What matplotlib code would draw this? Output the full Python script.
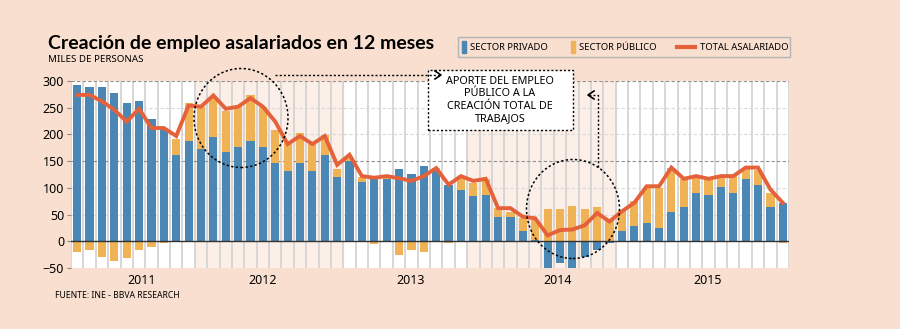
import matplotlib
matplotlib.use("Agg")
import matplotlib.pyplot as plt
from matplotlib.patches import Ellipse, Rectangle
from matplotlib.lines import Line2D

plt.rcParams['font.family'] = ['Noto Sans', 'DejaVu Sans']

# datos (miles de personas, variacion en 12 meses)
privado = [293, 288, 288, 278, 258, 263, 228, 211, 162, 187,
           172, 196, 167, 176, 187, 176, 146, 132, 146, 132,
           162, 121, 151, 111, 116, 117, 136, 126, 141, 134,
           105, 96, 84, 86, 45, 45, 20, 2, -52, -41,
           -50, -29, -16, -4, 19, 29, 35, 25, 55, 65,
           91, 86, 101, 91, 116, 106, 65, 72]
publico = [-20, -16, -30, -36, -31, -16, -11, -4, 30, 72,
           80, 72, 76, 76, 86, 76, 62, 54, 56, 51,
           36, 15, 5, 10, -5, 3, -25, -16, -20, 3,
           -4, 22, 26, 31, 17, 9, 23, 37, 60, 60,
           66, 60, 65, 40, 40, 46, 65, 75, 83, 52,
           28, 31, 21, 31, 22, 28, 26, -4]
total = [274, 274, 262, 246, 224, 248, 212, 212, 197, 254,
         252, 273, 248, 252, 268, 252, 224, 182, 197, 182,
         197, 143, 162, 122, 119, 122, 118, 113, 122, 137,
         106, 122, 113, 117, 62, 62, 46, 43, 11, 21,
         22, 30, 53, 37, 56, 72, 103, 103, 138, 117,
         122, 117, 122, 122, 138, 138, 97, 72]
years = ['2011', '2012', '2013', '2014', '2015']
year_pos = [5.2, 15.0, 26.9, 38.8, 50.9]
bandas = [(10, 22), (32, 44)]

bg = '#f8dfcf'
azul = '#4a87b4'
naranja = '#efb254'
rojo = '#e4613a'

fig = plt.figure(figsize=(9, 3.29), dpi=100, facecolor=bg)
ax = fig.add_axes([71/900, 1-268/329, 718/900, 187/329])
ax.set_facecolor('white')

n = len(privado)
x = list(range(n))
for a, b in bandas:
    ax.axvspan(a - 0.5, b - 0.5, color='#fcefe8', zorder=0)
for i in range(n + 1):
    ax.axvline(i - 0.5, color='#d4d4d4', lw=1.3, zorder=1)
for v in [50, 100, 200, 250]:
    ax.axhline(v, color='#d8d8d8', lw=0.8, ls=(0, (3, 2)), zorder=1)
for v in [150, 300]:
    ax.axhline(v, color='#909090', lw=0.8, ls=(0, (3, 2)), zorder=1)

# barras apiladas: positivos sobre positivos, negativos bajo negativos
pub_base = []
for p, q in zip(privado, publico):
    if q >= 0:
        pub_base.append(max(p, 0))
    else:
        pub_base.append(min(p, 0))
ax.bar(x, privado, width=0.66, color=azul, zorder=2)
ax.bar(x, publico, bottom=pub_base, width=0.66, color=naranja, zorder=2)
ax.axhline(0, color='#333333', lw=1.0, zorder=3)
ax.plot(x, total, color=rojo, lw=2.8, zorder=4, solid_joinstyle='miter')

ax.set_xlim(-0.5, n - 0.5)
ax.set_ylim(-50, 300)
ax.set_yticks([-50, 0, 50, 100, 150, 200, 250, 300])
ax.set_xticks(year_pos)
ax.set_xticklabels(years)
ax.tick_params(axis='x', length=0, pad=4, labelsize=9)
ax.tick_params(axis='y', length=3, color='#888888', pad=2, labelsize=9)
for s in ax.spines.values():
    s.set_visible(False)

# titulo
fig.text(48/900, 1-44/329, 'Creación de empleo asalariados en 12 meses',
         fontsize=14, fontweight='bold', family='Lato', va='center', ha='left')
fig.text(48/900, 1-60/329, 'MILES DE PERSONAS', fontsize=7, va='center', ha='left')
fig.text(55/900, 1-296/329, 'FUENTE: INE - BBVA RESEARCH', fontsize=6.2,
         va='center', ha='left')

# leyenda (dibujada a mano)
t = fig.transFigure
fig.add_artist(Rectangle((458/900, 1-57/329), 332/900, 20/329, transform=t,
                         facecolor=bg, edgecolor='#b5b5b5', lw=1.0))
fig.add_artist(Rectangle((462/900, 1-53/329), 4/900, 12/329, transform=t, color=azul))
fig.add_artist(Rectangle((571/900, 1-53/329), 4/900, 12/329, transform=t, color=naranja))
fig.add_artist(Line2D([677/900, 695/900], [1-47/329, 1-47/329], transform=t,
                      color=rojo, lw=3))
for xt, txt in [(470, 'SECTOR PRIVADO'), (579, 'SECTOR PÚBLICO'), (700, 'TOTAL ASALARIADO')]:
    fig.text(xt/900, 1-47/329, txt, fontsize=6.8, va='center', ha='left')

# anotaciones: circulos, cuadro y flechas punteadas
fig.add_artist(Ellipse((241/900, 1-118/329), 94/900, 99/329, transform=t, fill=False,
                       ls=(0, (1.5, 1.5)), lw=1.1, color='black', zorder=6))
fig.add_artist(Ellipse((573/900, 1-209/329), 93/900, 99/329, transform=t, fill=False,
                       ls=(0, (1.5, 1.5)), lw=1.1, color='black', zorder=6))
fig.add_artist(Rectangle((428/900, 1-130/329), 145/900, 60/329, transform=t,
                         facecolor='white', edgecolor='black', ls=(0, (1.5, 1.5)),
                         lw=1.0, zorder=6))
fig.text(500/900, 1-100/329, 'APORTE DEL EMPLEO\nPÚBLICO A LA\nCREACIÓN TOTAL DE\nTRABAJOS',
         ha='center', va='center', fontsize=7.8, linespacing=1.15, zorder=7)
fig.add_artist(Line2D([275/900, 440/900], [1-75/329, 1-75/329], transform=t,
                      color='black', lw=1.0, ls=(0, (1.5, 1.5)), zorder=7))
fig.add_artist(Line2D([435/900, 441/900, 435/900], [1-71/329, 1-75/329, 1-79/329],
                      transform=t, color='black', lw=1.2, zorder=7))
fig.add_artist(Line2D([598/900, 598/900, 588/900], [1-167/329, 1-95/329, 1-95/329],
                      transform=t, color='black', lw=1.0, ls=(0, (1.5, 1.5)), zorder=7))
fig.add_artist(Line2D([594/900, 588/900, 594/900], [1-91/329, 1-95/329, 1-99/329],
                      transform=t, color='black', lw=1.2, zorder=7))

fig.savefig('out.png', dpi=100, facecolor=bg)
